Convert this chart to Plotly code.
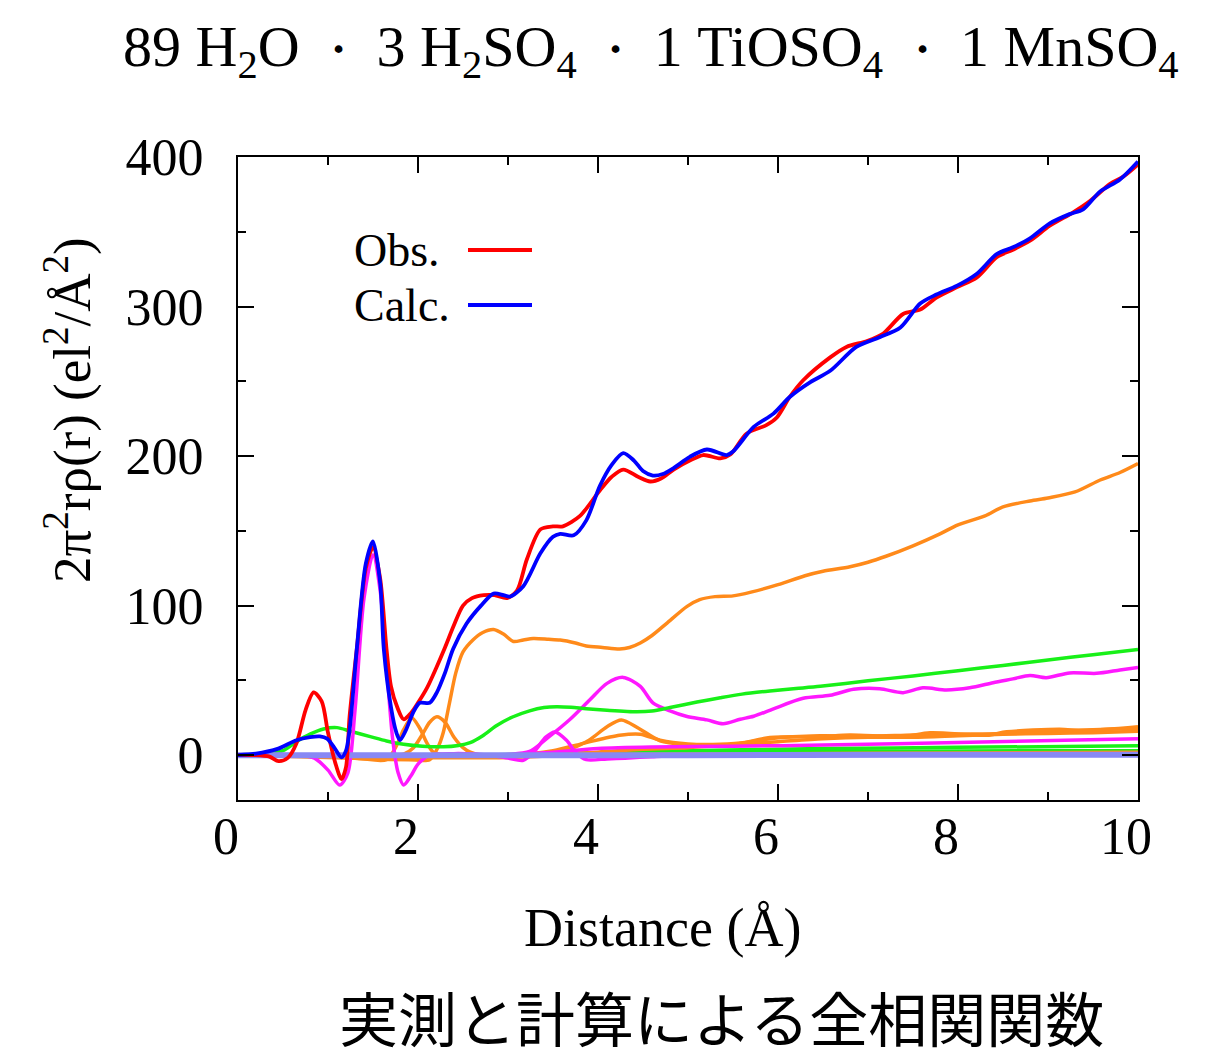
import plotly.graph_objects as go

# ---------------- data ----------------
r_obs = [0, 0.2, 0.35, 0.45, 0.55, 0.65, 0.75, 0.84, 0.93, 1.0, 1.08, 1.15, 1.2, 1.24, 1.32, 1.42, 1.50,
         1.58, 1.65, 1.70, 1.77, 1.84, 1.92, 2.0, 2.1, 2.2, 2.3, 2.4, 2.5, 2.6, 2.73, 2.85, 2.99, 3.1,
         3.21, 3.36, 3.5, 3.61, 3.8, 4.02, 4.15, 4.28, 4.45, 4.58, 4.7, 4.84, 5.02, 5.17, 5.36, 5.47,
         5.65, 5.87, 5.99, 6.13, 6.28, 6.58, 6.76, 6.99, 7.17, 7.39, 7.58, 7.76, 7.99, 8.21, 8.43, 8.61,
         8.8, 9.02, 9.28, 9.47, 9.69, 9.84, 10.0]
obs = [0, 0, -1, -4, -2, 8, 30, 42, 36, 15, -5, -16, -8, 26, 71, 125, 139,
       118, 71, 46, 32, 24, 28, 35, 45, 58, 72, 87, 100, 105, 107, 107, 105, 110,
       131, 151, 153, 153, 160, 177, 186, 191, 186, 183, 185, 191, 197, 200.7, 198.4, 201,
       215, 220.7, 226, 239.5, 250.7, 266, 273, 277, 282, 295, 298, 306, 313, 319.5, 333, 338,
       344, 354, 363, 370.7, 382, 387, 395]

r_calc = [0, 0.2, 0.43, 0.65, 0.8, 0.91, 0.99, 1.07, 1.15, 1.2, 1.24, 1.32, 1.42, 1.50, 1.58, 1.62,
          1.70, 1.76, 1.80, 1.86, 1.95, 2.02, 2.13, 2.21, 2.3, 2.39, 2.54, 2.7, 2.84, 2.95, 3.02,
          3.17, 3.36, 3.5, 3.58, 3.73, 3.87, 4.02, 4.15, 4.28, 4.4, 4.5, 4.61, 4.72, 4.84, 5.02, 5.21,
          5.43, 5.5, 5.73, 5.95, 6.13, 6.36, 6.58, 6.87, 7.13, 7.36, 7.58, 7.76, 7.99, 8.21, 8.43,
          8.61, 8.8, 9.02, 9.24, 9.39, 9.58, 9.8, 10.0]
calc = [0, 1, 4, 10, 12, 12.5, 11, 5, -1.5, 3, 17, 71, 128, 143, 115, 71,
        32, 15, 10, 16, 29, 35, 35, 42, 55, 71, 88, 100, 108, 107, 106,
        113, 135, 146, 148, 147, 157, 180, 194, 202, 197, 190, 187, 188, 192, 199.5, 204.4,
        200.7, 203, 219.5, 228.4, 239.5, 249.5, 257, 273, 279.5, 286, 302, 308, 314, 322, 335,
        339.6, 345.6, 355.6, 361.8, 365, 377, 385, 397]

# partial contributions
r_or1 = [0, 0.5, 1.0, 1.5, 1.9, 2.13, 2.22, 2.28, 2.35, 2.42, 2.5, 2.61, 2.72, 2.84, 2.95, 3.06, 3.17,
         3.28, 3.45, 3.58, 3.75, 3.87, 4.05, 4.24, 4.35, 4.47, 4.6, 4.76, 4.99, 5.13, 5.3, 5.5, 5.7,
         6.0, 6.3, 6.5, 6.8, 7.0, 7.2, 7.5, 7.8, 8.0, 8.3, 8.5, 8.8, 9.0, 9.3, 9.58, 9.8, 10.0]
or1 = [0, 0, -1, -2.5, -3, -3, 5, 15, 35, 55, 69, 77, 82, 84, 81, 76, 77,
       78, 77.5, 77, 75, 73, 72, 71, 72, 75, 80, 88, 99.5, 104, 106, 106.5, 109,
       114, 120, 123, 126, 129, 133, 140, 148, 154, 160, 166, 170, 172, 176, 184, 189, 195]

r_or2 = [0, 1.3, 1.65, 1.75, 1.84, 1.93, 2.02, 2.1, 2.17, 2.3, 3.0, 3.5, 4.0, 4.5, 5.0, 5.5, 6.0,
         6.5, 7.0, 7.5, 8.0, 8.5, 9.0, 9.5, 10.0]
or2 = [0, -2, -3, 5, 17, 25, 18, 8, 2, 0, 0, 0.5, 2, 4, 5, 7, 9,
       11, 12, 12, 13, 14, 14.5, 15, 16]

r_or3 = [0, 1.7, 1.84, 1.95, 2.05, 2.13, 2.21, 2.3, 2.4, 2.5, 2.58, 2.7, 4.0, 6.0, 8.0, 10.0]
or3 = [0, 0, 0.7, 5, 14, 22, 25.6, 22, 12, 5, 2, 0, 0.5, 1, 1.5, 2]

r_or4 = [0, 3.5, 3.69, 3.9, 4.1, 4.26, 4.45, 4.69, 5.0, 5.36, 5.6, 5.91, 6.47, 6.8, 7.39, 7.69,
         8.32, 8.54, 9.13, 9.4, 10.0]
or4 = [0, 0, 4, 10, 19, 23.5, 18, 9.6, 7, 6.2, 8, 11.8, 12.4, 13.4, 12.4, 15,
       13.3, 15.6, 17.3, 16.4, 19]

r_or5 = [0, 3.0, 3.5, 3.87, 4.24, 4.47, 4.69, 5.0, 5.36, 5.7, 5.91, 6.47, 7.0, 7.5, 8.0, 8.5,
         9.0, 9.5, 10.0]
or5 = [0, 0, 3, 8.4, 13.3, 14, 10, 7.5, 7.3, 9, 11, 12.9, 12.5, 13.5, 14, 14.5,
       16, 17, 18]

r_gr1 = [0, 0.3, 0.5, 0.65, 0.8, 0.95, 1.1, 1.25, 1.47, 1.65, 1.84, 2.05, 2.28, 2.45, 2.58, 2.72,
         2.87, 3.05, 3.24, 3.4, 3.54, 3.7, 3.87, 4.1, 4.43, 4.6, 4.8, 5.1, 5.36, 5.6, 5.91, 6.2,
         6.47, 7.0, 7.5, 8.0, 8.5, 9.0, 9.5, 10.0]
gr1 = [0, 0.5, 3, 9, 14, 17.5, 18.4, 16, 12.4, 9.5, 7.3, 6, 5.6, 6.5, 8.4, 13,
       19.6, 25.5, 29.6, 31.8, 32.4, 32, 31, 30, 29, 29.5, 31.8, 35.5, 38.4, 40.8, 42.9, 44.5,
       46, 49.7, 53, 56.5, 60, 63.6, 67.2, 70.7]

r_gr2 = [0, 2.5, 3.5, 5.0, 6.5, 8.0, 10.0]
gr2 = [0, 0, 1, 3, 4.4, 5.2, 6.2]

r_gr3 = [0, 3.0, 5.0, 6.5, 8.0, 10.0]
gr3 = [0, 0, 2, 2.5, 2.8, 3]

r_mg1 = [0, 0.7, 0.85, 1.0, 1.13, 1.22, 1.3, 1.4, 1.5, 1.58, 1.65, 1.72, 1.78, 1.84, 1.92, 2.0,
         2.13, 2.4, 2.8, 3.0, 3.17, 3.3, 3.42, 3.52, 3.65, 3.75, 3.87, 4.1, 4.3, 4.6, 5.0, 6.0,
         8.0, 10.0]
mg1 = [0, 0, -2, -10, -20, -12, 30, 105, 134, 110, 60, 10, -12, -20, -14, -6,
       0, 1, 0, -2, -3.5, 3, 12, 15.5, 10, 2, -3, -2.5, -2, -1, 0, 0,
       0, 0]

r_mg2 = [0, 2.5, 3.0, 3.24, 3.45, 3.69, 3.91, 4.1, 4.28, 4.47, 4.61, 4.8, 4.98, 5.21, 5.39, 5.58,
         5.73, 5.95, 6.28, 6.58, 6.84, 7.13, 7.39, 7.61, 7.87, 8.13, 8.39, 8.61, 8.8, 8.98, 9.24,
         9.54, 9.8, 10.0]
mg2 = [0, 0, 0.5, 2.5, 12, 24, 37, 48, 52, 46, 35, 29.6, 26, 23.6, 21, 24,
       26, 31, 38, 40, 44, 44.4, 41.8, 45, 43.6, 45, 48.4, 51, 53.3, 51.8, 55,
       54.7, 57, 58.7]

r_mg3 = [0, 3.0, 3.5, 4.0, 4.6, 5.5, 6.5, 8.0, 10.0]
mg3 = [0, 0, 2, 4.5, 5.5, 6, 6.7, 8.5, 11]

r_lav = [0, 2.5, 5.0, 7.5, 10.0]
lav = [0, 0, 0, 0.2, 0.3]

x_ticks = [0, 2, 4, 6, 8, 10]
y_ticks = [0, 100, 200, 300, 400]

RED = "#ff0000"
BLUE = "#0000ff"
ORANGE = "#ff8a1a"
GREEN = "#18f018"
MAGENTA = "#ff18ff"
LAV = "#8888f4"

fig = go.Figure()

def add(x, y, color, width=3.5):
    fig.add_trace(go.Scatter(x=x, y=y, mode="lines", showlegend=False,
                             line=dict(color=color, width=width, shape="spline", smoothing=0.8),
                             hoverinfo="skip"))

add(r_gr3, gr3, GREEN)
add(r_gr2, gr2, GREEN)
add(r_or3, or3, ORANGE)
add(r_or2, or2, ORANGE)
add(r_or5, or5, ORANGE)
add(r_or4, or4, ORANGE)
add(r_or1, or1, ORANGE)
add(r_mg3, mg3, MAGENTA)
add(r_mg2, mg2, MAGENTA)
add(r_gr1, gr1, GREEN)
add(r_mg1, mg1, MAGENTA)
add(r_lav, lav, LAV, 6)
add(r_obs, obs, RED, 3.8)
add(r_calc, calc, BLUE, 3.8)

SERIF = "Liberation Serif"

# page body has an 8px margin: figure 1215x1050 placed at (8, 8)
fig.update_layout(
    width=1215, height=1050,
    margin=dict(l=230, r=85, t=149, b=258),
    paper_bgcolor="white", plot_bgcolor="white",
    font=dict(family=SERIF, color="black"),
)
fig.update_xaxes(
    range=[0, 10], tickvals=x_ticks, ticktext=[str(v) for v in x_ticks],
    ticks="inside", ticklen=16, tickwidth=2, tickcolor="black",
    minor=dict(dtick=1, tick0=0, ticks="inside", ticklen=8, tickwidth=2, tickcolor="black"),
    showline=True, linewidth=2, linecolor="black", mirror="ticks",
    showgrid=False, zeroline=False,
    tickfont=dict(family=SERIF, size=52, color="black"),
    ticklabelstandoff=-10, ticklabelshift=-12,
)
fig.update_yaxes(
    range=[-30, 400], tickvals=y_ticks, ticktext=[str(v) for v in y_ticks],
    ticks="inside", ticklen=16, tickwidth=2, tickcolor="black",
    minor=dict(dtick=50, tick0=0, ticks="inside", ticklen=8, tickwidth=2, tickcolor="black"),
    showline=True, linewidth=2, linecolor="black", mirror="ticks",
    showgrid=False, zeroline=False,
    tickfont=dict(family=SERIF, size=52, color="black"),
    ticklabelstandoff=22,
)

# plot area in screen px: x 238..1138, y 157..800
def px(xs):
    return (xs - 238) / 900

def py(ys):
    return (800 - ys) / 643

DOT = '<span style="font-size:48px">・</span>'
fig.add_annotation(
    text=f"89 H<sub>2</sub>O {DOT} 3 H<sub>2</sub>SO<sub>4</sub> {DOT} 1 TiOSO<sub>4</sub> {DOT} 1 MnSO<sub>4</sub>",
    xref="paper", yref="paper", x=px(651), y=py(50), xanchor="center", yanchor="middle",
    showarrow=False, font=dict(family=SERIF, size=58, color="black"))
fig.add_annotation(
    text="Distance (Å)", xref="paper", yref="paper", x=px(662), y=py(928),
    xanchor="center", yanchor="middle", showarrow=False,
    font=dict(family=SERIF, size=54, color="black"))
fig.add_annotation(
    text="2π<sup>2</sup>rρ(r) (el<sup>2</sup>/Å<sup>2</sup>)", xref="paper", yref="paper",
    x=px(68), y=py(410), xanchor="center", yanchor="middle", textangle=-90,
    showarrow=False, font=dict(family=SERIF, size=53, color="black"))
fig.add_annotation(
    text="実測と計算による全相関関数", xref="paper", yref="paper",
    x=px(721), y=py(1016), xanchor="center", yanchor="middle",
    showarrow=False, font=dict(family="Noto Sans CJK JP", size=59, color="black"))

# legend (text left of line sample)
for label, col, ypx in [("Obs.", RED, 250), ("Calc.", BLUE, 305)]:
    fig.add_annotation(text=label, xref="paper", yref="paper", x=px(352),
                       y=py(ypx), xanchor="left", yanchor="middle", showarrow=False,
                       font=dict(family=SERIF, size=46, color="black"))
    fig.add_shape(type="line", xref="paper", yref="paper", x0=px(468), x1=px(532),
                  y0=py(ypx), y1=py(ypx), line=dict(color=col, width=4))

fig.write_html("out.html")
